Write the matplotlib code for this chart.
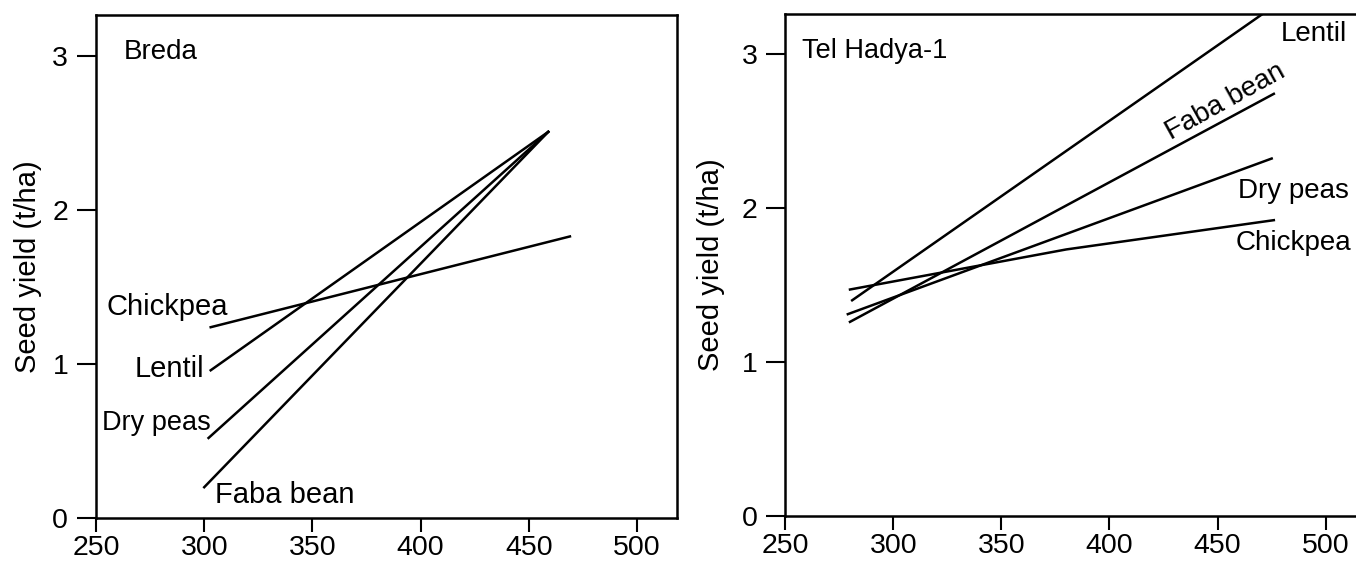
import matplotlib
matplotlib.use("Agg")
import matplotlib.pyplot as plt

plt.rcParams['font.family'] = ['Liberation Sans', 'DejaVu Sans']
plt.rcParams['font.size'] = 21

# Breda: rainfall (mm) vs seed yield (t/ha)
breda_chickpea_x = [303, 469]
breda_chickpea_y = [1.24, 1.83]
breda_lentil_x = [303, 459]
breda_lentil_y = [0.96, 2.51]
breda_drypeas_x = [302, 459]
breda_drypeas_y = [0.52, 2.51]
breda_faba_x = [300, 459]
breda_faba_y = [0.20, 2.51]

# Tel Hadya-1
tel_lentil_x = [281, 472]
tel_lentil_y = [1.40, 3.27]
tel_faba_x = [280, 476]
tel_faba_y = [1.26, 2.74]
tel_drypeas_x = [279, 475]
tel_drypeas_y = [1.31, 2.32]
tel_chickpea_x = [280, 380, 476]
tel_chickpea_y = [1.47, 1.73, 1.92]

xticks = [250, 300, 350, 400, 450, 500]
yticks = [0, 1, 2, 3]

fig = plt.figure(figsize=(13.56, 5.64), dpi=100)
ax1 = fig.add_axes([0.0708, 0.0816, 0.4285, 0.892])
ax2 = fig.add_axes([0.579, 0.0851, 0.421, 0.8906])


def style_axes(ax, xmax, ymax, label_x):
    ax.set_xlim(250, xmax)
    ax.set_ylim(0, ymax)
    ax.set_xticks(xticks)
    ax.set_yticks(yticks)
    ax.tick_params(axis='both', direction='out', width=1.5, colors='black',
                   labelsize=20.5)
    ax.tick_params(axis='y', length=14, pad=6)
    ax.tick_params(axis='x', length=10, pad=2)
    for s in ax.spines.values():
        s.set_linewidth(1.8)
    ax.set_ylabel('Seed yield (t/ha)', fontsize=21)
    ax.yaxis.set_label_coords(label_x, 0.5)


lw = 1.8
style_axes(ax1, 518.5, 3.27, -0.093)
ax1.plot(breda_chickpea_x, breda_chickpea_y, color='black', lw=lw)
ax1.plot(breda_lentil_x, breda_lentil_y, color='black', lw=lw)
ax1.plot(breda_drypeas_x, breda_drypeas_y, color='black', lw=lw)
ax1.plot(breda_faba_x, breda_faba_y, color='black', lw=lw)
ax1.text(263, 3.03, 'Breda', va='center', ha='left', fontsize=20)
ax1.text(255, 1.37, 'Chickpea', va='center', ha='left', fontsize=21)
ax1.text(300, 0.97, 'Lentil', va='center', ha='right', fontsize=21)
ax1.text(303, 0.62, 'Dry peas', va='center', ha='right', fontsize=19.5)
ax1.text(305, 0.15, 'Faba bean', va='center', ha='left', fontsize=21)

style_axes(ax2, 514, 3.26, -0.105)
ax2.spines['right'].set_visible(False)
ax2.plot(tel_lentil_x, tel_lentil_y, color='black', lw=lw)
ax2.plot(tel_faba_x, tel_faba_y, color='black', lw=lw)
ax2.plot(tel_drypeas_x, tel_drypeas_y, color='black', lw=lw)
ax2.plot(tel_chickpea_x, tel_chickpea_y, color='black', lw=lw)
ax2.text(258, 3.02, 'Tel Hadya-1', va='center', ha='left', fontsize=19.5)
ax2.text(479, 3.13, 'Lentil', va='center', ha='left', fontsize=20)
ax2.text(453.4, 2.69, 'Faba bean', va='center', ha='center', rotation=29,
         rotation_mode='anchor', fontsize=20)
ax2.text(459.5, 2.11, 'Dry peas', va='center', ha='left', fontsize=20)
ax2.text(458.5, 1.77, 'Chickpea', va='center', ha='left', fontsize=20)

fig.savefig('out.png', dpi=100)
